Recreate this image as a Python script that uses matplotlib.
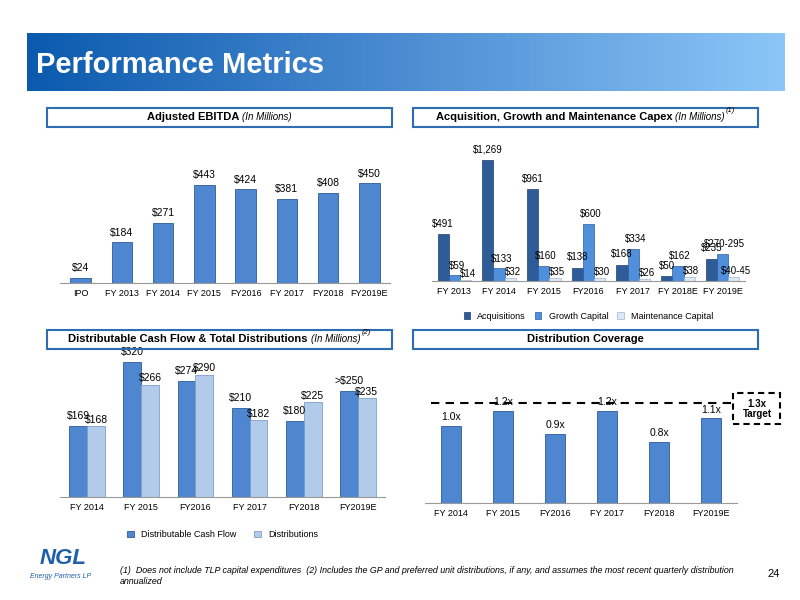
import matplotlib
matplotlib.use("Agg")
import matplotlib.pyplot as plt
import numpy as np
from matplotlib.patches import Rectangle
from matplotlib.colors import LinearSegmentedColormap

plt.rcParams['font.family'] = ['Liberation Sans', 'DejaVu Sans']

ebitda_cats = ["IPO", "FY 2013", "FY 2014", "FY 2015", "FY2016", "FY 2017", "FY2018", "FY2019E"]
ebitda_vals = [24, 184, 271, 443, 424, 381, 408, 450]
ebitda_lbls = ["$24", "$184", "$271", "$443", "$424", "$381", "$408", "$450"]

capex_cats = ["FY 2013", "FY 2014", "FY 2015", "FY2016", "FY 2017", "FY 2018E", "FY 2019E"]
acq_vals = [491, 1269, 961, 138, 168, 50, 235]
acq_lbls = ["$491", "$1,269", "$961", "$138", "$168", "$50", "$235"]
growth_vals = [59, 133, 160, 600, 334, 162, 283]
growth_lbls = ["$59", "$133", "$160", "$600", "$334", "$162", "$270-295"]
maint_vals = [14, 32, 35, 30, 26, 38, 43]
maint_lbls = ["$14", "$32", "$35", "$30", "$26", "$38", "$40-45"]

dcf_cats = ["FY 2014", "FY 2015", "FY2016", "FY 2017", "FY2018", "FY2019E"]
dcf_vals = [169, 320, 274, 210, 180, 250]
dcf_lbls = ["$169", "$320", "$274", "$210", "$180", ">$250"]
dist_vals = [168, 266, 290, 182, 225, 235]
dist_lbls = ["$168", "$266", "$290", "$182", "$225", "$235"]

cov_cats = ["FY 2014", "FY 2015", "FY2016", "FY 2017", "FY2018", "FY2019E"]
cov_vals = [1.0, 1.2, 0.9, 1.2, 0.8, 1.1]
cov_lbls = ["1.0x", "1.2x", "0.9x", "1.2x", "0.8x", "1.1x"]
cov_target = 1.3

W, H = 800, 600
fig = plt.figure(figsize=(8, 6), dpi=100)
renderer = fig.canvas.get_renderer()

def ax_px(x0, y0, x1, y1):
    return fig.add_axes([x0 / W, 1 - y1 / H, (x1 - x0) / W, (y1 - y0) / H])

# banner
bax = ax_px(27, 33, 785, 91)
grad = np.linspace(0, 1, 256)[None, :]
cm = LinearSegmentedColormap.from_list("b", ["#0B5AAE", "#4C8DD2", "#8CC6F8"])
bax.imshow(grad, aspect="auto", cmap=cm, extent=[0, 1, 0, 1])
bax.axis("off")
bax.text(0.012, 0.45, "Performance Metrics", color="white", fontsize=21, fontweight="bold",
         va="center", ha="left", transform=bax.transAxes)

def header(x0, y0, x1, y1, title, sub=None, sup=None):
    fig.patches.append(Rectangle((x0 / W, 1 - y1 / H), (x1 - x0) / W, (y1 - y0) / H,
                                 transform=fig.transFigure, fill=False, edgecolor="#2E6DB4", lw=1.5))
    cy = 1 - (y0 + y1) / 2 / H
    t1 = fig.text(0, cy, title, ha="left", va="center", fontsize=8, fontweight="bold")
    parts = [t1]
    if sub:
        parts.append(fig.text(0, cy, sub, ha="left", va="center", fontsize=7, style="italic"))
    if sup:
        parts.append(fig.text(0, cy + 7 / H, sup, ha="left", va="center", fontsize=5.5, style="italic"))
    widths = [p.get_window_extent(renderer).width for p in parts]
    gaps = [0, 3, 1][:len(parts)]
    total = sum(widths) + sum(gaps)
    x = (x0 + x1) / 2 - total / 2
    for p, wd, g in zip(parts, widths, gaps):
        x += g
        p.set_x(x / W)
        x += wd

header(47, 108, 392, 127, "Adjusted EBITDA", "(In Millions)")
header(413, 108, 758, 127, "Acquisition, Growth and Maintenance Capex", "(In Millions)", "(1)")
header(47, 330, 392, 349, "Distributable Cash Flow & Total Distributions", "(In Millions)", "(2)")
header(413, 330, 758, 349, "Distribution Coverage")

C1 = "#4F86D0"; E1 = "#2C5C9E"
C_ACQ = "#2E5C98"; C_GR = "#4F8FDC"; C_MA = "#DDE8F5"
C_DIST = "#B3CBEA"

def style(ax, cats):
    for s in ["top", "right", "left"]:
        ax.spines[s].set_visible(False)
    ax.spines["bottom"].set_color("#999999")
    ax.set_yticks([])
    ax.set_xticks(range(len(cats)))
    ax.set_xticklabels(cats, fontsize=6.5)
    ax.tick_params(axis="x", length=0, pad=4)
    ax.set_facecolor("none")

# chart 1
ax1 = ax_px(60, 150, 390, 283)
x = np.arange(len(ebitda_cats))
ax1.bar(x, ebitda_vals, 0.5, color=C1, edgecolor=E1, lw=0.6)
for xi, v, l in zip(x, ebitda_vals, ebitda_lbls):
    ax1.text(xi, v + 20, l, ha="center", va="bottom", fontsize=7.5)
ax1.set_ylim(0, 600); ax1.set_xlim(-0.5, len(x) - 0.5)
style(ax1, ebitda_cats)

# chart 2
ax2 = ax_px(432, 140, 745, 281)
x = np.arange(len(capex_cats)); w = 0.25
ax2.bar(x - w, acq_vals, w, color=C_ACQ, edgecolor="#1F3F6E", lw=0.5, label="Acquisitions")
ax2.bar(x, growth_vals, w, color=C_GR, edgecolor="#2C5C9E", lw=0.5, label="Growth Capital")
ax2.bar(x + w, maint_vals, w, color=C_MA, edgecolor="#9FB6D3", lw=0.5, label="Maintenance Capital")
for xi, v, l in zip(x, acq_vals, acq_lbls):
    ax2.text(xi - w, v + 60, l, ha="center", va="bottom", fontsize=7)
for xi, v, l in zip(x, growth_vals, growth_lbls):
    ax2.text(xi + 0.05, v + 50, l, ha="center", va="bottom", fontsize=7)
for xi, v, l in zip(x, maint_vals, maint_lbls):
    ax2.text(xi + w + 0.05, v + 10, l, ha="center", va="bottom", fontsize=7)
ax2.set_ylim(0, 1480); ax2.set_xlim(-0.5, len(x) - 0.5)
style(ax2, capex_cats)
ax2.legend(loc="upper center", bbox_to_anchor=(0.5, -0.16), ncol=3, frameon=False, fontsize=6.5,
           handlelength=0.7, handleheight=0.7, columnspacing=1.0)

# chart 3
ax3 = ax_px(60, 340, 385, 497)
x = np.arange(len(dcf_cats)); w = 0.33
ax3.bar(x - w / 2, dcf_vals, w, color=C1, edgecolor=E1, lw=0.6, label="Distributable Cash Flow")
ax3.bar(x + w / 2, dist_vals, w, color=C_DIST, edgecolor="#7F9FCB", lw=0.6, label="Distributions")
for xi, v, l in zip(x, dcf_vals, dcf_lbls):
    ax3.text(xi - w / 2, v + 12, l, ha="center", va="bottom", fontsize=7.5)
for xi, v, l in zip(x, dist_vals, dist_lbls):
    ax3.text(xi + w / 2, v + 3, l, ha="center", va="bottom", fontsize=7.5)
ax3.set_ylim(0, 372); ax3.set_xlim(-0.5, len(x) - 0.5)
style(ax3, dcf_cats)
ax3.legend(loc="upper center", bbox_to_anchor=(0.5, -0.16), ncol=2, frameon=False, fontsize=6.5,
           handlelength=0.7, handleheight=0.7, columnspacing=2.0)

# chart 4
ax4 = ax_px(425, 380, 737, 503)
x = np.arange(len(cov_cats))
ax4.bar(x, cov_vals, 0.38, color=C1, edgecolor=E1, lw=0.6)
for xi, v, l in zip(x, cov_vals, cov_lbls):
    ax4.text(xi, v + 0.05, l, ha="center", va="bottom", fontsize=7.5)
ax4.axhline(cov_target, xmin=0.02, xmax=1.0, color="black", lw=1.5, ls=(0, (4, 3)))
ax4.set_ylim(0, 1.6); ax4.set_xlim(-0.5, len(x) - 0.5)
style(ax4, cov_cats)
fig.patches.append(Rectangle((733 / W, 1 - 424 / H), 47 / W, 31 / H, transform=fig.transFigure,
                             fill=False, edgecolor="black", lw=1.5, ls=(0, (3, 2))))
fig.text(757 / W, 1 - 409 / H, "1.3x\nTarget", ha="center", va="center", fontsize=7,
         fontweight="bold", linespacing=1.1)

# footer
fig.text(40 / W, 1 - 558 / H, "NGL", fontsize=16, fontweight="bold", style="italic", color="#1F5FAA",
         ha="left", va="center")
fig.text(30 / W, 1 - 576 / H, "Energy Partners LP", fontsize=5, style="italic", color="#1F5FAA", ha="left", va="center")
fig.text(120 / W, 1 - 576 / H,
         "(1)  Does not include TLP capital expenditures  (2) Includes the GP and preferred unit distributions, if any, and assumes the most recent quarterly distribution\nannualized",
         fontsize=6.4, style="italic", ha="left", va="center")
fig.text(780 / W, 1 - 574 / H, "24", fontsize=8, ha="right", va="center")

fig.savefig("out.png", dpi=100)
